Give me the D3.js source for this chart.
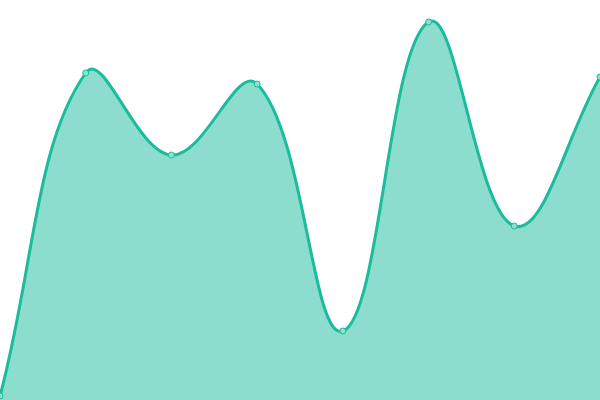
<!DOCTYPE html>
<html>
<head>
<meta charset="utf-8">
<script src="https://cdn.jsdelivr.net/npm/d3@7"></script>
<style>
  html, body { margin: 0; padding: 0; background: #fff; }
  svg { display: block; }
</style>
</head>
<body>
<div id="chart"></div>
<script>
const width = 600;
const height = 400;

// data
const labels = ["A", "B", "C", "D", "E", "F", "G", "H"];
const values = [4, 327, 245, 316, 69, 378, 174, 323];

const data = labels.map((d, i) => ({ label: d, value: values[i] }));

const svg = d3.select("#chart")
  .append("svg")
  .attr("width", width)
  .attr("height", height);

const x = d3.scalePoint()
  .domain(labels)
  .range([0, width]);

const y = d3.scaleLinear()
  .domain([0, 400])
  .range([height, 0]);

// spline with distance-weighted control points (tension 0.4)
function splineCurve(context) {
  const t = 0.4;
  return {
    areaStart() { this._line = 0; },
    areaEnd() { this._line = NaN; },
    lineStart() { this._pts = []; },
    lineEnd() {
      const p = this._pts, n = p.length;
      if (n) {
        if (this._line) context.lineTo(p[0][0], p[0][1]);
        else context.moveTo(p[0][0], p[0][1]);
      }
      // control points for each point
      const cps = p.map((cur, i) => {
        const prev = p[Math.max(i - 1, 0)];
        const next = p[Math.min(i + 1, n - 1)];
        const d01 = Math.hypot(cur[0] - prev[0], cur[1] - prev[1]);
        const d12 = Math.hypot(next[0] - cur[0], next[1] - cur[1]);
        let s01 = d01 / (d01 + d12), s12 = d12 / (d01 + d12);
        if (isNaN(s01)) s01 = 0;
        if (isNaN(s12)) s12 = 0;
        const fa = t * s01, fb = t * s12;
        const clampX = v => Math.max(0, Math.min(width, v));
        const clampY = v => Math.max(0, Math.min(height, v));
        return {
          prev: [clampX(cur[0] - fa * (next[0] - prev[0])), clampY(cur[1] - fa * (next[1] - prev[1]))],
          next: [clampX(cur[0] + fb * (next[0] - prev[0])), clampY(cur[1] + fb * (next[1] - prev[1]))]
        };
      });
      for (let i = 1; i < n; i++) {
        context.bezierCurveTo(cps[i - 1].next[0], cps[i - 1].next[1],
          cps[i].prev[0], cps[i].prev[1], p[i][0], p[i][1]);
      }
      if (this._line || (this._line !== 0 && n === 1)) context.closePath();
      this._line = 1 - this._line;
    },
    point(px, py) { this._pts.push([+px, +py]); }
  };
}

const area = d3.area()
  .x(d => x(d.label))
  .y0(height)
  .y1(d => y(d.value))
  .curve(splineCurve);

const line = d3.line()
  .x(d => x(d.label))
  .y(d => y(d.value))
  .curve(splineCurve);

svg.append("path")
  .datum(data)
  .attr("d", area)
  .attr("fill", "#1abc9c")
  .attr("fill-opacity", 0.5);

svg.append("path")
  .datum(data)
  .attr("d", line)
  .attr("fill", "none")
  .attr("stroke", "#1abc9c")
  .attr("stroke-width", 3);

// point markers
svg.selectAll(".dot")
  .data(data)
  .enter()
  .append("circle")
  .attr("class", "dot")
  .attr("cx", d => x(d.label))
  .attr("cy", d => y(d.value))
  .attr("r", 3)
  .attr("fill", "#8ee0cf")
  .attr("stroke", "#1abc9c")
  .attr("stroke-width", 1);
</script>
</body>
</html>
